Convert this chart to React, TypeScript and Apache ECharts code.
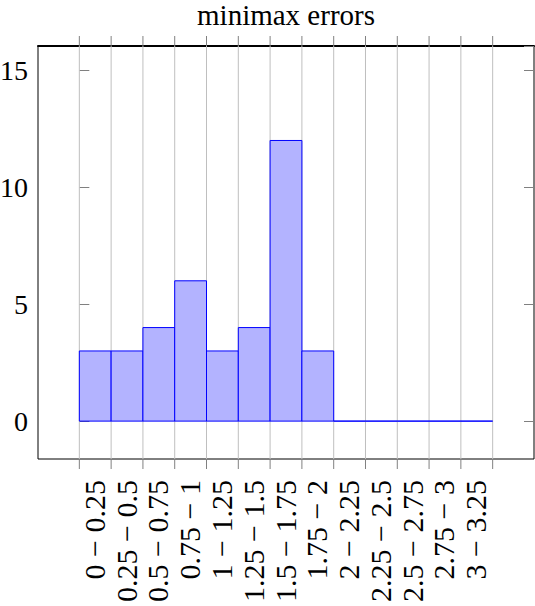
import React, { useEffect, useRef } from 'react';
import * as echarts from 'echarts';

// histogram of minimax errors, one bin per 0.25
const binEdges = [0, 0.25, 0.5, 0.75, 1, 1.25, 1.5, 1.75, 2, 2.25, 2.5, 2.75, 3, 3.25];
const binLabels = [
  '0 − 0.25', '0.25 − 0.5', '0.5 − 0.75', '0.75 − 1', '1 − 1.25', '1.25 − 1.5', '1.5 − 1.75',
  '1.75 − 2', '2 − 2.25', '2.25 − 2.5', '2.5 − 2.75', '2.75 − 3', '3 − 3.25'
];
const errorCounts = [3, 3, 4, 6, 3, 4, 12, 3, 0, 0, 0, 0, 0];

const X_MIN = -0.325;
const X_MAX = 3.575;
const Y_MIN = -1.62;
const Y_MAX = 16.04;
const FONT = 'Liberation Serif';

const App = () => {
  const chartRef = useRef(null);

  useEffect(() => {
    const myChart = echarts.init(chartRef.current, null, { renderer: 'svg' });

    const yTickLabel = (v: number) => (Math.abs(v % 5) < 1e-9 ? String(v) : '');

    const option = {
      animation: false,
      graphic: [
        {
          type: 'text',
          x: 286,
          y: 14.5,
          style: {
            text: 'minimax errors',
            align: 'center',
            verticalAlign: 'middle',
            fontSize: 29,
            fontFamily: FONT,
            fill: '#000'
          }
        }
      ],
      grid: {
        left: 38,
        right: 1,
        top: 46,
        bottom: 147,
        outerBoundsMode: 'none',
        containLabel: false,
        show: true,
        borderColor: '#000',
        borderWidth: 1
      },
      xAxis: {
        type: 'value',
        min: X_MIN,
        max: X_MAX,
        position: 'top',
        axisLine: { show: true, onZero: false, lineStyle: { color: '#000', width: 2 } },
        axisTick: { show: false },
        axisLabel: { show: false },
        splitLine: { show: false }
      },
      yAxis: [
        {
          type: 'value',
          min: Y_MIN,
          max: Y_MAX,
          splitNumber: 3,
          axisLine: { show: false },
          axisTick: { show: true, inside: true, length: 10, lineStyle: { color: '#808080', width: 1 } },
          axisLabel: {
            margin: 10,
            fontSize: 28,
            fontFamily: FONT,
            color: '#000',
            showMinLabel: false,
            showMaxLabel: false,
            formatter: yTickLabel
          },
          splitLine: { show: false }
        },
        {
          type: 'value',
          position: 'right',
          min: Y_MIN,
          max: Y_MAX,
          splitNumber: 3,
          axisLine: { show: false },
          axisTick: { show: true, inside: true, length: 10, lineStyle: { color: '#808080', width: 1 } },
          axisLabel: { show: false },
          splitLine: { show: false }
        }
      ],
      series: [
        {
          // vertical grid at bin edges, with ticks outside the frame
          type: 'custom',
          clip: false,
          z: 1,
          data: binEdges.map((e) => [e]),
          renderItem: (params: any, api: any) => {
            const top = api.coord([api.value(0), Y_MAX]);
            const bot = api.coord([api.value(0), Y_MIN]);
            return {
              type: 'group',
              children: [
                {
                  type: 'line',
                  shape: { x1: top[0], y1: top[1], x2: bot[0], y2: bot[1] },
                  style: { stroke: '#bfbfbf', lineWidth: 1 }
                },
                {
                  type: 'line',
                  shape: { x1: top[0], y1: top[1] - 10, x2: top[0], y2: top[1] },
                  style: { stroke: '#808080', lineWidth: 1 }
                },
                {
                  type: 'line',
                  shape: { x1: bot[0], y1: bot[1], x2: bot[0], y2: bot[1] + 10 },
                  style: { stroke: '#808080', lineWidth: 1 }
                }
              ]
            };
          }
        },
        {
          type: 'custom',
          z: 2,
          data: errorCounts.map((c, i) => [binEdges[i], binEdges[i + 1], c]),
          renderItem: (params: any, api: any) => {
            const p0 = api.coord([api.value(0), api.value(2)]);
            const p1 = api.coord([api.value(1), 0]);
            return {
              type: 'rect',
              shape: { x: p0[0], y: p0[1], width: p1[0] - p0[0], height: p1[1] - p0[1] },
              style: { fill: '#b3b3ff', stroke: '#0000ff', lineWidth: 1 }
            };
          }
        },
        {
          // rotated bin labels under the frame
          type: 'custom',
          clip: false,
          z: 3,
          data: binLabels.map((_, i) => [(binEdges[i] + binEdges[i + 1]) / 2]),
          renderItem: (params: any, api: any) => {
            const p = api.coord([api.value(0), Y_MIN]);
            return {
              type: 'text',
              x: p[0] - 1,
              y: p[1] + 21,
              rotation: Math.PI / 2,
              style: {
                text: binLabels[params.dataIndex],
                align: 'right',
                verticalAlign: 'middle',
                fontSize: 30,
                fontFamily: FONT,
                fill: '#000'
              }
            };
          }
        }
      ]
    };

    myChart.setOption(option);

    return () => {
      myChart.dispose();
    };
  }, []);

  return (
    <div
      ref={chartRef}
      style={{ position: 'fixed', left: 0, top: 0, width: '535px', height: '606px', background: '#fff' }}
    />
  );
};

export default App;
